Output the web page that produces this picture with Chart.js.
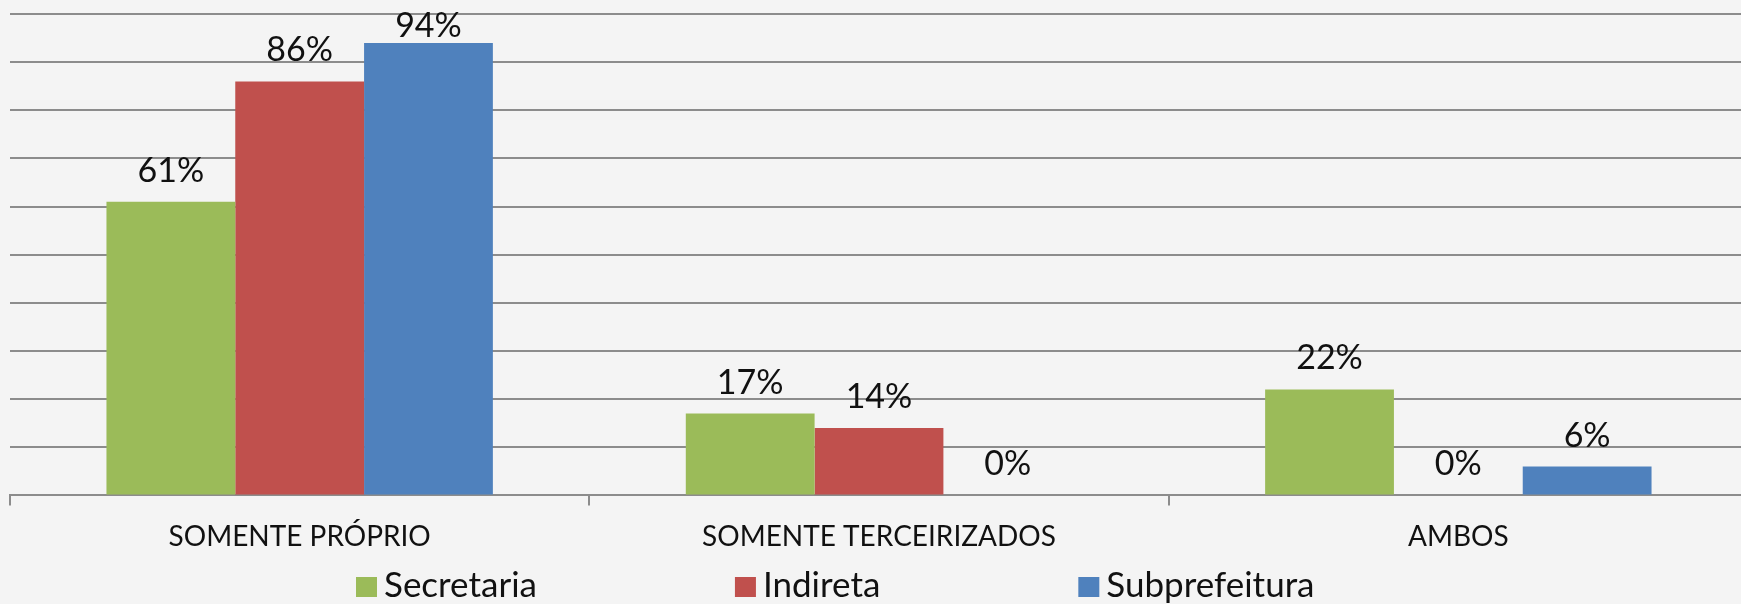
<!DOCTYPE html>
<html>
<head>
<meta charset="utf-8">
<script src="https://cdn.jsdelivr.net/npm/chart.js@4/dist/chart.umd.min.js"></script>
<style>
  html, body { margin: 0; padding: 0; background: #f4f4f4; overflow: hidden; }
  #wrap { width: 1748px; height: 604px; }
</style>
</head>
<body>
<div id="wrap"><canvas id="chart"></canvas></div>
<script>
const categories = ['SOMENTE PRÓPRIO', 'SOMENTE TERCEIRIZADOS', 'AMBOS'];
const secretaria = [61, 17, 22];
const indireta = [86, 14, 0];
const subprefeitura = [94, 0, 6];

// percent labels above each bar, kept inside the top edge
const barLabels = {
    id: 'barLabels',
    afterDatasetsDraw(chart) {
        const ctx = chart.ctx;
        ctx.save();
        ctx.font = '34px Lato';
        ctx.fillStyle = '#111';
        ctx.textAlign = 'center';
        ctx.textBaseline = 'alphabetic';
        chart.data.datasets.forEach((ds, i) => {
            chart.getDatasetMeta(i).data.forEach((bar, j) => {
                ctx.fillText(ds.data[j] + '%', bar.x, Math.max(bar.y - 20, 37));
            });
        });
        ctx.restore();
    }
};

// excel style legend: square, label, fixed gap between entries
const bottomLegend = {
    id: 'bottomLegend',
    afterDraw(chart) {
        const ctx = chart.ctx;
        const box = 21, gap = 7, spacing = 198;
        const base = chart.height - 7;
        ctx.save();
        ctx.font = '35px Lato';
        ctx.textBaseline = 'alphabetic';
        ctx.textAlign = 'left';
        let x = 356;
        chart.data.datasets.forEach(ds => {
            ctx.fillStyle = ds.backgroundColor;
            ctx.fillRect(x, base - 20, box, 20);
            ctx.fillStyle = '#111';
            ctx.fillText(ds.label, x + box + gap, base);
            x += box + gap + ctx.measureText(ds.label).width + spacing;
        });
        ctx.restore();
    }
};

const ctx = document.getElementById('chart').getContext('2d');

new Chart(ctx, {
    type: 'bar',
    data: {
        labels: categories,
        datasets: [
            { label: 'Secretaria', data: secretaria, backgroundColor: '#9BBB59' },
            { label: 'Indireta', data: indireta, backgroundColor: '#C0504D' },
            { label: 'Subprefeitura', data: subprefeitura, backgroundColor: '#4F81BD' }
        ]
    },
    options: {
        responsive: true,
        maintainAspectRatio: false,
        animation: false,
        categoryPercentage: 0.667,
        barPercentage: 1,
        layout: { padding: { left: 10, top: 14, right: 0, bottom: 35 } },
        scales: {
            x: {
                grid: {
                    offset: true,
                    drawOnChartArea: false,
                    drawTicks: true,
                    tickLength: 10,
                    color: '#8c8c8c',
                    lineWidth: 2
                },
                border: { display: true, color: '#8c8c8c', width: 2 },
                ticks: {
                    color: '#111',
                    font: { family: 'Lato', size: 28 },
                    padding: 15,
                    maxRotation: 0
                }
            },
            y: {
                min: 0,
                max: 100,
                ticks: { stepSize: 10, display: false },
                grid: { color: '#8c8c8c', lineWidth: 2, drawTicks: false },
                border: { display: false }
            }
        },
        plugins: {
            legend: { display: false },
            tooltip: { enabled: false }
        }
    },
    plugins: [barLabels, bottomLegend]
});
</script>
</body>
</html>
